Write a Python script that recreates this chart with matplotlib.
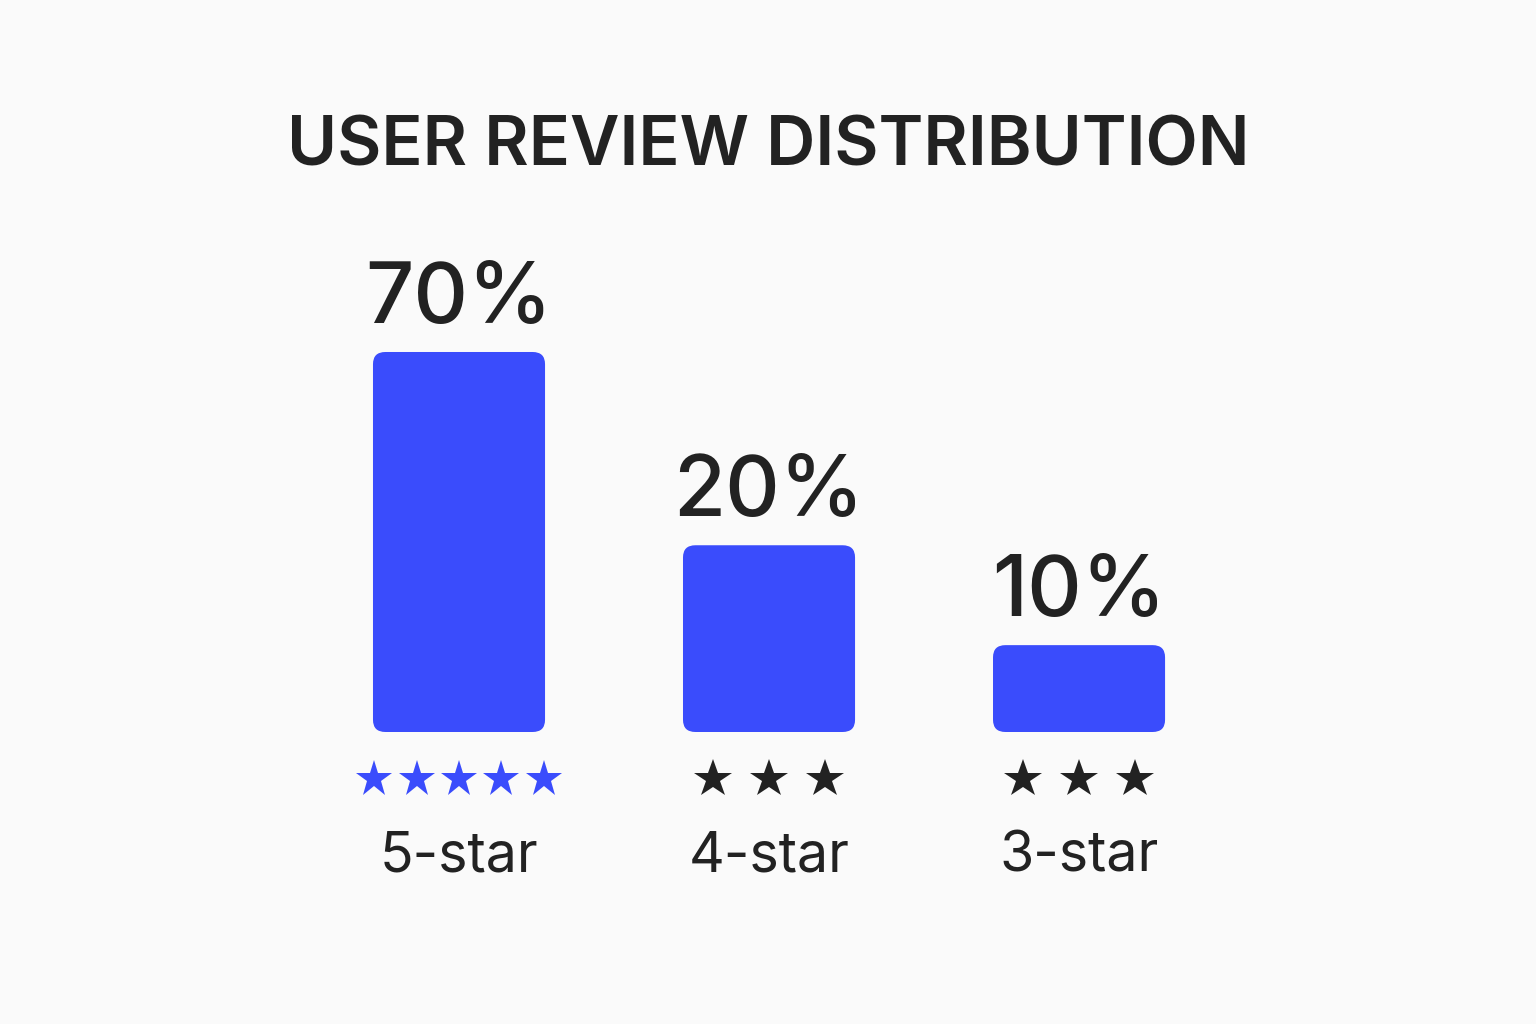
import matplotlib.pyplot as plt
from matplotlib.patches import FancyBboxPatch

plt.rcParams['font.family'] = ['Inter', 'DejaVu Sans']

# data
categories = ['5-star', '4-star', '3-star']
shares = [70, 20, 10]                 # printed percentages
bar_heights = [70, 34.4, 16.0]        # drawn bar lengths as they appear
star_counts = [5, 3, 3]
star_colors = ['#3a4cfc', '#222222', '#222222']

BLUE = '#3a4cfc'
INK = '#222222'
BG = '#fafafa'

fig = plt.figure(figsize=(15.36, 10.24), dpi=100, facecolor=BG)
ax = fig.add_axes([0, 0, 1, 1])
ax.set_facecolor(BG)
ax.set_xlim(-1.4806, 3.474)
ax.set_ylim(-53.79, 134.84)
ax.axis('off')

bar_w = 0.555
for i, (h, s) in enumerate(zip(bar_heights, shares)):
    # rounded bar
    box = FancyBboxPatch((i - bar_w / 2, 0), bar_w, h,
                         boxstyle='round,pad=0,rounding_size=0.04',
                         mutation_aspect=56, facecolor=BLUE, edgecolor='none')
    ax.add_patch(box)
    # percentage label above the bar
    ax.annotate(f'{s}%', (i, h), xytext=(0, 21), textcoords='offset points',
                ha='center', va='baseline', fontsize=61, fontweight='medium',
                color=INK)

# star rows
for i, (n, c) in enumerate(zip(star_counts, star_colors)):
    step = 0.137 if n == 5 else 0.18
    size = 28 if n == 5 else 29
    xs = [i + (k - (n - 1) / 2) * step for k in range(n)]
    ax.plot(xs, [-8.6] * n, linestyle='none', marker='*',
            markersize=size, color=c, markeredgewidth=0)
    ax.text(i, -23.0, categories[i], ha='center', va='center',
            fontsize=40, color=INK)

fig.text(0.5, 1 - 148 / 1024, 'USER REVIEW DISTRIBUTION', ha='center',
         va='center', fontsize=49, fontweight='semibold', color=INK)

plt.savefig('out.png', dpi=100, facecolor=BG)
